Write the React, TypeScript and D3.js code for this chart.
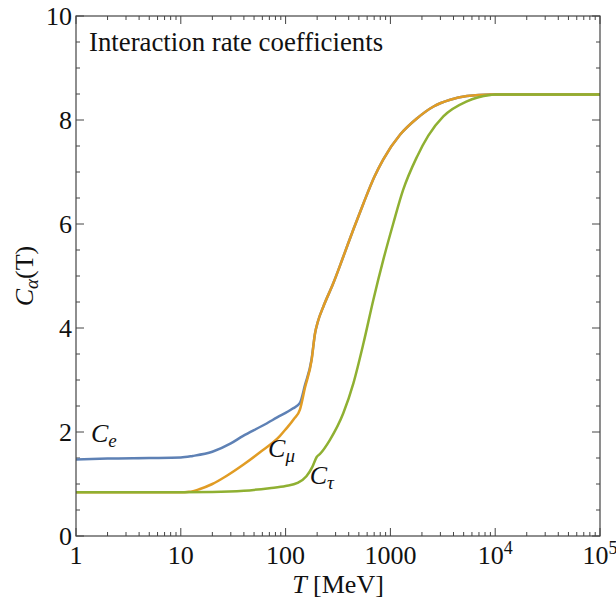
import { useEffect, useRef } from "react";
import * as d3 from "d3";

// C_e(T)
const eT = [1, 2, 5, 10, 13, 20, 30, 39, 60, 83, 117, 137, 153, 177, 191, 203, 229, 285, 355, 444, 554, 700, 853, 1240, 1790, 2580, 3720, 5370, 9000, 10000, 100000];
const eC = [1.47, 1.49, 1.5, 1.51, 1.54, 1.62, 1.78, 1.92, 2.12, 2.28, 2.45, 2.56, 2.9, 3.4, 3.9, 4.12, 4.41, 4.86, 5.37, 5.9, 6.4, 6.9, 7.24, 7.72, 8.03, 8.26, 8.39, 8.46, 8.49, 8.49, 8.49];

// C_mu(T)
const muT = [1, 5, 10, 12, 15, 20, 27, 40, 57, 88, 100, 120, 137, 153, 177, 191, 203, 229, 285, 355, 444, 554, 700, 853, 1240, 1790, 2580, 3720, 5370, 9000, 10000, 100000];
const muC = [0.84, 0.84, 0.84, 0.85, 0.9, 1.0, 1.15, 1.38, 1.61, 1.92, 2.05, 2.25, 2.43, 2.85, 3.38, 3.9, 4.12, 4.41, 4.86, 5.37, 5.9, 6.4, 6.9, 7.24, 7.72, 8.03, 8.26, 8.39, 8.46, 8.49, 8.49, 8.49];

// C_tau(T)
const tauT = [1, 10, 20, 40, 70, 100, 130, 158, 180, 198, 213, 265, 355, 444, 554, 687, 855, 1065, 1320, 1790, 2300, 3200, 5370, 9000, 10000, 100000];
const tauC = [0.84, 0.84, 0.845, 0.87, 0.92, 0.96, 1.02, 1.15, 1.33, 1.52, 1.58, 1.85, 2.36, 2.94, 3.71, 4.54, 5.31, 6.01, 6.65, 7.29, 7.7, 8.07, 8.36, 8.48, 8.49, 8.49];

const xTicks = [1, 10, 100, 1000, 10000, 100000];
const xTickLabels = ["1", "10", "100", "1000", "10^4", "10^5"];
const yTicks = [0, 2, 4, 6, 8, 10];

// curve labels: T, C of text start / baseline
const labelSub = ["e", "μ", "τ"];
const labelT = [1.39, 68, 170];
const labelC = [1.8, 1.52, 1.0];

const colors = ["#5e81b5", "#e19c24", "#8fb032"];

export default function App() {
  const svgRef = useRef<SVGSVGElement | null>(null);

  useEffect(() => {
    const svgEl = svgRef.current;
    if (!svgEl) return;
    const width = 616;
    const height = 606;
    const margin = { top: 16, right: 16, bottom: 70, left: 76 };
    const x0 = margin.left;
    const x1 = width - margin.right;
    const y0 = height - margin.bottom;
    const y1 = margin.top;

    const svg = d3.select(svgEl);
    svg.selectAll("*").remove();

    const x = d3.scaleLog().domain([1, 100000]).range([x0, x1]);
    const y = d3.scaleLinear().domain([0, 10]).range([y0, y1]);

    const font = "Liberation Serif";
    const axisColor = "#444";

    // ticks
    const minorX: number[] = [];
    for (let d = 1; d < 100000; d *= 10) {
      for (let k = 2; k <= 9; k++) minorX.push(d * k);
    }
    const minorY = d3.range(0, 10.01, 0.5).filter((v) => !yTicks.includes(v));

    const g = svg.append("g");
    const tick = (x1a: number, y1a: number, x2a: number, y2a: number) =>
      g.append("line")
        .attr("x1", x1a).attr("y1", y1a).attr("x2", x2a).attr("y2", y2a)
        .attr("stroke", axisColor).attr("stroke-width", 1);

    xTicks.forEach((t) => {
      tick(x(t), y0, x(t), y0 - 8);
      tick(x(t), y1, x(t), y1 + 8);
    });
    minorX.forEach((t) => {
      tick(x(t), y0, x(t), y0 - 4);
      tick(x(t), y1, x(t), y1 + 4);
    });
    yTicks.forEach((v) => {
      tick(x0, y(v), x0 + 8, y(v));
      tick(x1, y(v), x1 - 8, y(v));
    });
    minorY.forEach((v) => {
      tick(x0, y(v), x0 + 4, y(v));
      tick(x1, y(v), x1 - 4, y(v));
    });

    // curves
    const line = d3
      .line<[number, number]>()
      .x((d) => x(d[0]))
      .y((d) => y(d[1]))
      .curve(d3.curveMonotoneX);

    const series: [number, number][][] = [
      eT.map((t, i) => [t, eC[i]]),
      muT.map((t, i) => [t, muC[i]]),
      tauT.map((t, i) => [t, tauC[i]]),
    ];
    const clip = svg.append("clipPath").attr("id", "plotclip");
    clip.append("rect").attr("x", x0).attr("y", y1).attr("width", x1 - x0).attr("height", y0 - y1);
    const plot = svg.append("g").attr("clip-path", "url(#plotclip)");
    series.forEach((s, i) => {
      plot.append("path")
        .attr("d", line(s) || "")
        .attr("fill", "none")
        .attr("stroke", colors[i])
        .attr("stroke-width", 2.5)
        .attr("stroke-linejoin", "round");
    });

    // frame
    svg.append("rect")
      .attr("x", x0).attr("y", y1).attr("width", x1 - x0).attr("height", y0 - y1)
      .attr("fill", "none").attr("stroke", axisColor).attr("stroke-width", 1.2);

    const text = (size: number) =>
      svg.append("text")
        .style("font-family", font)
        .style("font-size", `${size}px`)
        .attr("fill", "#111");

    // x tick labels
    xTicks.forEach((t, i) => {
      const txt = text(26)
        .attr("x", x(t)).attr("y", y0 + 28)
        .attr("text-anchor", "middle");
      const lab = xTickLabels[i];
      if (lab.includes("^")) {
        const [b, e] = lab.split("^");
        txt.append("tspan").text(b);
        txt.append("tspan").attr("dy", -10).style("font-size", "18px").text(e);
      } else {
        txt.text(lab);
      }
    });

    // y tick labels
    yTicks.forEach((v) => {
      text(26)
        .attr("x", x0 - 4).attr("y", y(v) + 9)
        .attr("text-anchor", "end")
        .text(String(v));
    });

    // x axis title
    const xt = text(26)
      .attr("x", (x0 + x1) / 2).attr("y", y0 + 57)
      .attr("text-anchor", "middle");
    xt.append("tspan").style("font-style", "italic").text("T");
    xt.append("tspan").text(" [MeV]");

    // y axis title
    const yt = text(26)
      .attr("transform", `translate(33, ${(y0 + y1) / 2}) rotate(-90)`)
      .attr("text-anchor", "middle");
    yt.append("tspan").style("font-style", "italic").text("C");
    yt.append("tspan").style("font-style", "italic").style("font-size", "19px").attr("dy", 5).text("α");
    yt.append("tspan").attr("dy", -5).text("(T)");

    // title
    text(26.8)
      .attr("x", x0 + 13).attr("y", y1 + 35)
      .text("Interaction rate coefficients");

    // curve labels
    labelSub.forEach((s, i) => {
      const t = text(26)
        .attr("x", x(labelT[i])).attr("y", y(labelC[i]))
        .style("font-style", "italic");
      t.append("tspan").text("C");
      t.append("tspan").style("font-size", "19px").attr("dy", 5).text(s);
    });
  }, []);

  return (
    <svg
      ref={svgRef}
      width={616}
      height={606}
      style={{ position: "absolute", left: 0, top: 0, background: "#fff" }}
    />
  );
}
